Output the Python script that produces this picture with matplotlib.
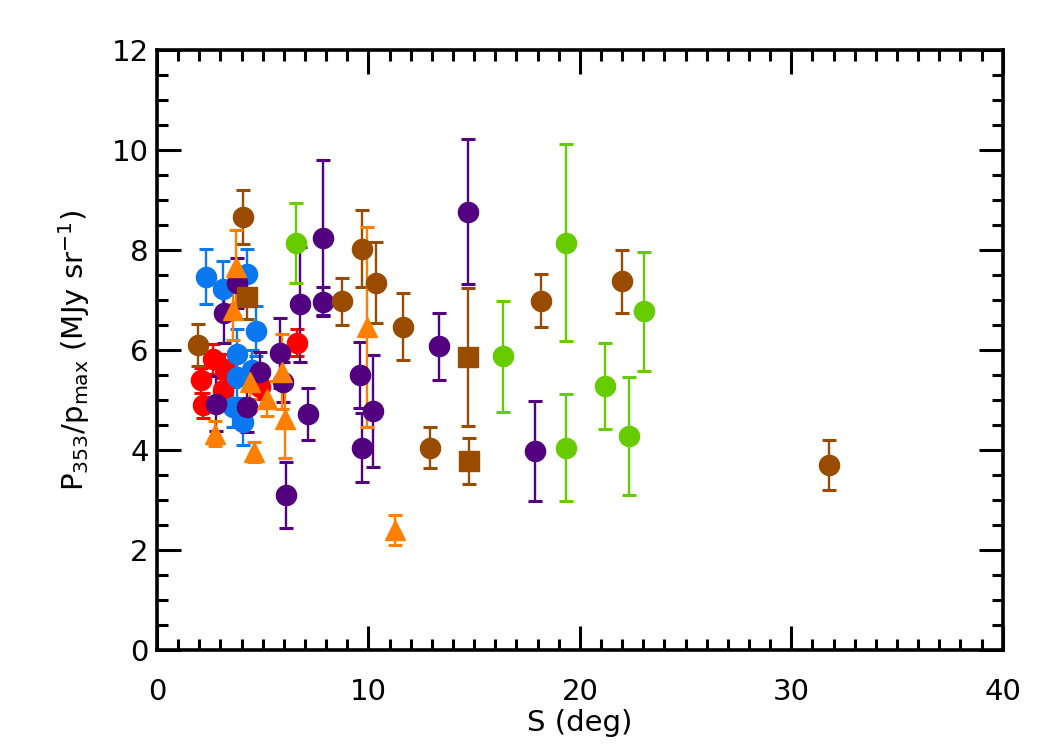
import matplotlib
matplotlib.use("Agg")
import matplotlib.pyplot as plt
from matplotlib.ticker import MultipleLocator

# ---- data ----
red_S   = [2.1, 2.19, 2.66, 3.21, 3.1, 4.87, 6.6]
red_P   = [5.40, 4.90, 5.83, 5.62, 5.20, 5.27, 6.15]
red_E   = [0.25, 0.25, 0.30, 0.30, 0.25, 0.25, 0.27]

blue_S  = [2.32, 3.14, 4.24, 4.68, 3.77, 3.77, 3.61, 4.08, 4.48]
blue_P  = [7.47, 7.23, 7.52, 6.38, 5.93, 5.47, 4.87, 4.57, 5.60]
blue_E  = [0.55, 0.55, 0.50, 0.50, 0.50, 0.45, 0.40, 0.47, 0.40]

purple_S = [14.72, 17.9, 13.33, 9.6, 9.7, 10.23, 7.83, 7.85, 6.76, 6.12, 7.16,
            5.84, 5.97, 4.87, 4.24, 2.77, 3.18, 3.80]
purple_P = [8.77, 3.99, 6.08, 5.50, 4.05, 4.78, 8.25, 6.97, 6.92, 3.11, 4.73,
            5.95, 5.37, 5.57, 4.87, 4.93, 6.75, 7.35]
purple_E = [1.45, 1.00, 0.67, 0.66, 0.69, 1.12, 1.55, 0.29, 1.15, 0.66, 0.52,
            0.70, 0.40, 0.40, 0.50, 0.55, 0.60, 0.50]

green_S = [6.57, 16.37, 19.34, 19.34, 21.18, 22.33, 23.04]
green_P = [8.14, 5.88, 8.15, 4.05, 5.29, 4.28, 6.78]
green_E = [0.80, 1.11, 1.97, 1.07, 0.86, 1.18, 1.19]

brown_S = [4.05, 1.95, 8.77, 9.72, 10.38, 11.65, 12.91, 18.16, 22.0, 31.77]
brown_P = [8.67, 6.11, 6.98, 8.03, 7.35, 6.47, 4.05, 6.99, 7.38, 3.70]
brown_E = [0.54, 0.42, 0.47, 0.77, 0.81, 0.67, 0.41, 0.53, 0.63, 0.50]

brsq_S = [4.24, 14.73, 14.75]
brsq_P = [7.07, 5.87, 3.79]
brsq_E = [0.45, 1.38, 0.46]

orange_S = [3.74, 3.61, 4.39, 5.19, 5.89, 6.05, 2.74, 4.60, 9.91, 11.25]
orange_P = [7.67, 6.80, 5.37, 5.03, 5.57, 4.63, 4.33, 3.97, 6.47, 2.40]
orange_E = [0.74, 0.60, 0.35, 0.35, 0.75, 0.78, 0.25, 0.20, 2.00, 0.30]

RED = "#FF0000"
BLUE = "#0A78F0"
PURPLE = "#520080"
GREEN = "#66CC00"
BROWN = "#994C00"
ORANGE = "#FF8000"

plt.rcParams['font.family'] = ['DejaVu Sans']

fig = plt.figure(figsize=(10.5, 7.5), dpi=100)
ax = fig.add_axes([0.1495, 0.1333, 0.8055, 0.80])

def series(S, P, E, color, marker, ms):
    ax.errorbar(S, P, yerr=E, fmt=marker, color=color, ms=ms, mec=color,
                mfc=color, ecolor=color, elinewidth=1.7, capsize=5,
                capthick=2.2, zorder=3)

series(red_S, red_P, red_E, RED, 'o', 14.5)
series(blue_S, blue_P, blue_E, BLUE, 'o', 14.5)
series(purple_S, purple_P, purple_E, PURPLE, 'o', 14.5)
series(green_S, green_P, green_E, GREEN, 'o', 14.5)
series(brown_S, brown_P, brown_E, BROWN, 'o', 14.5)
series(brsq_S, brsq_P, brsq_E, BROWN, 's', 14)
series(orange_S, orange_P, orange_E, ORANGE, '^', 15)

ax.set_xlim(0, 40)
ax.set_ylim(0, 12)
ax.xaxis.set_major_locator(MultipleLocator(10))
ax.xaxis.set_minor_locator(MultipleLocator(1))
ax.yaxis.set_major_locator(MultipleLocator(2))
ax.yaxis.set_minor_locator(MultipleLocator(0.5))
ax.tick_params(which='both', direction='in', top=True, right=True,
               width=2.2, labelsize=21, colors='black')
ax.tick_params(which='major', length=17)
ax.tick_params(which='minor', length=8)
ax.tick_params(axis='x', which='major', pad=20)
ax.tick_params(axis='y', which='major', pad=6)
for sp in ax.spines.values():
    sp.set_linewidth(2.6)

ax.set_xlabel('S (deg)', fontsize=21, labelpad=2)
ax.set_ylabel(r'P$_{353}$/p$_{\rm max}$ (MJy sr$^{-1}$)', fontsize=21, labelpad=14)

fig.savefig('out.png', dpi=100)
